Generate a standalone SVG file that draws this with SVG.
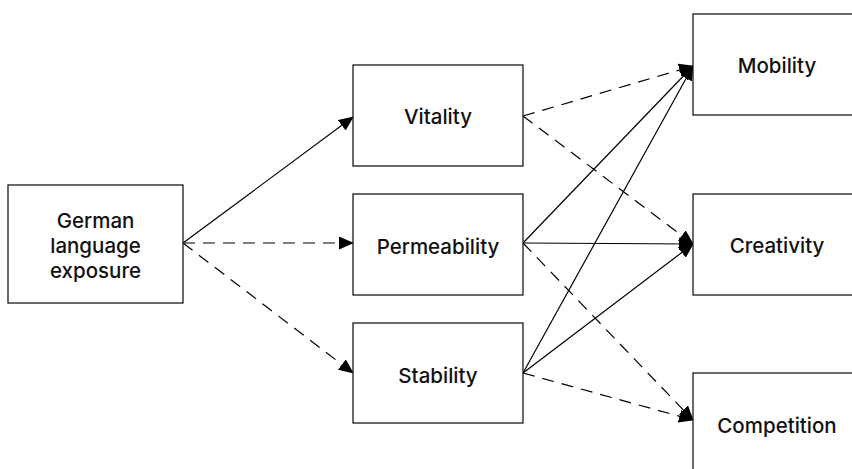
<svg xmlns="http://www.w3.org/2000/svg" width="852" height="469" viewBox="0 0 852 469">
  <style>
    .box { fill: #ffffff; stroke: #1a1a1a; stroke-width: 1.3; }
    .lbl { font-family: Inter, "Open Sans", "Liberation Sans", sans-serif; font-size: 20.5px; font-weight: 500; fill: #111111; text-anchor: middle; }
    .edge { fill: none; stroke: #000000; stroke-width: 1.2; marker-end: url(#arrow); }
    .dash { stroke-dasharray: 12 8; }
  </style>
  <defs>
    <marker id="arrow" viewBox="0 0 15 13" refX="14" refY="6.5" markerWidth="15" markerHeight="13" markerUnits="userSpaceOnUse" orient="auto">
      <path d="M0,0 L15,6.5 L0,13 Z" fill="#000000"/>
    </marker>
  </defs>

  <!-- connectors -->
  <g id="connectors">
    <line class="edge" x1="183" y1="243" x2="353" y2="117"/>
    <line class="edge dash" x1="183" y1="243" x2="353" y2="243"/>
    <line class="edge dash" x1="183" y1="243" x2="353" y2="373"/>

    <line class="edge dash" x1="523" y1="116" x2="693" y2="66"/>
    <line class="edge dash" x1="523" y1="116" x2="693" y2="244"/>

    <line class="edge" x1="523" y1="243" x2="693" y2="66"/>
    <line class="edge" x1="523" y1="243" x2="693" y2="244"/>
    <line class="edge dash" x1="523" y1="243" x2="693" y2="420"/>

    <line class="edge" x1="523" y1="373" x2="693" y2="66"/>
    <line class="edge" x1="523" y1="373" x2="693" y2="244"/>
    <line class="edge dash" x1="523" y1="373" x2="693" y2="420"/>
  </g>

  <g id="german">
    <rect class="box" x="8" y="185" width="175" height="118"/>
    <text class="lbl" x="95.5" y="228">German</text>
    <text class="lbl" x="95.5" y="253">language</text>
    <text class="lbl" x="95.5" y="278">exposure</text>
  </g>

  <g id="vitality">
    <rect class="box" x="353" y="65" width="170" height="101"/>
    <text class="lbl" x="438" y="124">Vitality</text>
  </g>

  <g id="permeability">
    <rect class="box" x="353" y="194" width="170" height="101"/>
    <text class="lbl" x="438" y="254">Permeability</text>
  </g>

  <g id="stability">
    <rect class="box" x="353" y="323" width="170" height="100"/>
    <text class="lbl" x="438" y="383">Stability</text>
  </g>

  <g id="mobility">
    <rect class="box" x="693" y="14" width="168" height="101"/>
    <text class="lbl" x="777" y="73">Mobility</text>
  </g>

  <g id="creativity">
    <rect class="box" x="693" y="194" width="168" height="101"/>
    <text class="lbl" x="777" y="253">Creativity</text>
  </g>

  <g id="competition">
    <rect class="box" x="693" y="373" width="168" height="104"/>
    <text class="lbl" x="777" y="433">Competition</text>
  </g>
</svg>
